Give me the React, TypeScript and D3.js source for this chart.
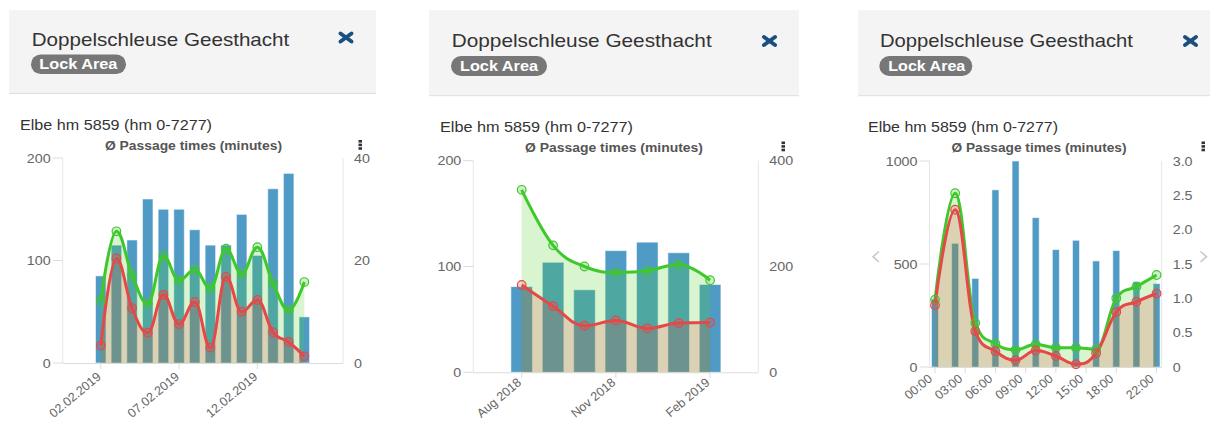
import React from "react";
import * as d3 from "d3";

// ---------- DATA ----------
// Panel 1: daily values
const p1Days = [0, 1, 2, 3, 4, 5, 6, 7, 8, 9, 10, 11, 12, 13];
const p1Counts = [85, 115, 120, 160, 150, 150, 130, 115, 115, 145, 105, 170, 185, 45];
const p1Green = [12.2, 25.7, 17.2, 11.6, 20.9, 16.1, 18.2, 14.6, 22.3, 17.4, 22.6, 15.6, 10.3, 15.8];
const p1Red = [3.4, 20.4, 10.7, 5.9, 13.3, 7.6, 11.9, 3.0, 16.8, 10.0, 12.3, 6.0, 4.1, 1.3];
const p1TickPos = [0, 5, 10];
const p1TickLabels = ["02.02.2019", "07.02.2019", "12.02.2019"];
const p1LeftTicks = [0, 100, 200];
const p1RightTicks = [0, 20, 40];

// Panel 2: monthly values (Aug 2018 .. Feb 2019)
const p2Months = [0, 1, 2, 3, 4, 5, 6];
const p2Counts = [81, 104, 78, 115, 123, 113, 83];
const p2Green = [345, 240, 200, 189, 192, 204, 174];
const p2Red = [165, 125, 88, 98, 83, 93, 94];
const p2TickPos = [0, 3, 6];
const p2TickLabels = ["Aug 2018", "Nov 2018", "Feb 2019"];
const p2LeftTicks = [0, 100, 200];
const p2RightTicks = [0, 200, 400];

// Panel 3: hourly values
const p3Hours = [0, 2, 4, 6, 8, 10, 12, 14, 16, 18, 20, 22];
const p3Counts = [330, 600, 430, 860, 1000, 725, 570, 615, 515, 565, 415, 405];
const p3Green = [0.98, 2.53, 0.64, 0.34, 0.25, 0.33, 0.28, 0.28, 0.26, 1.0, 1.17, 1.34];
const p3Red = [0.9, 2.29, 0.52, 0.23, 0.1, 0.24, 0.16, 0.04, 0.2, 0.8, 0.95, 1.07];
const p3TickPos = [0, 3, 6, 9, 12, 15, 18, 22];
const p3TickLabels = ["00:00", "03:00", "06:00", "09:00", "12:00", "15:00", "18:00", "22:00"];
const p3LeftTicks = [0, 500, 1000];
const p3RightTicks = [0, 0.5, 1, 1.5, 2, 2.5, 3];

const headerTitle = "Doppelschleuse Geesthacht";
const badgeText = "Lock Area";
const subtitleText = "Elbe hm 5859 (hm 0-7277)";
const chartTitleText = "Ø Passage times (minutes)";

// ---------- STYLE ----------
const FONT = "'Liberation Sans', Arial, Helvetica, sans-serif";
const BLUE = "#4f9bc5";
const GREEN = "#3fc82c";
const RED = "#e64848";

// Highcharts-like spline curve for d3
class HCSpline {
  _context: any;
  _line: number;
  _pts: number[][];
  constructor(context: any) {
    this._context = context;
    this._line = NaN;
    this._pts = [];
  }
  areaStart() { this._line = 0; }
  areaEnd() { this._line = NaN; }
  lineStart() { this._pts = []; }
  point(x: number, y: number) { this._pts.push([+x, +y]); }
  lineEnd() {
    const p = this._pts;
    const n = p.length;
    const ctx = this._context;
    if (n) {
      if (this._line) ctx.lineTo(p[0][0], p[0][1]);
      else ctx.moveTo(p[0][0], p[0][1]);
      const L = p.map((q) => [q[0], q[1]]);
      const R = p.map((q) => [q[0], q[1]]);
      for (let i = 1; i < n - 1; i++) {
        const [lx, ly] = p[i - 1];
        const [x, y] = p[i];
        const [nx, ny] = p[i + 1];
        const lcx = (1.5 * x + lx) / 2.5;
        let lcy = (1.5 * y + ly) / 2.5;
        const rcx = (1.5 * x + nx) / 2.5;
        let rcy = (1.5 * y + ny) / 2.5;
        if (rcx !== lcx) {
          const c = ((rcy - lcy) * (rcx - x)) / (rcx - lcx) + y - rcy;
          lcy += c;
          rcy += c;
        }
        if (lcy > ly && lcy > y) { lcy = Math.max(ly, y); rcy = 2 * y - lcy; }
        else if (lcy < ly && lcy < y) { lcy = Math.min(ly, y); rcy = 2 * y - lcy; }
        if (rcy > ny && rcy > y) { rcy = Math.max(ny, y); lcy = 2 * y - rcy; }
        else if (rcy < ny && rcy < y) { rcy = Math.min(ny, y); lcy = 2 * y - rcy; }
        L[i] = [lcx, lcy];
        R[i] = [rcx, rcy];
      }
      for (let i = 1; i < n; i++) {
        ctx.bezierCurveTo(R[i - 1][0], R[i - 1][1], L[i][0], L[i][1], p[i][0], p[i][1]);
      }
    }
    if (this._line || (this._line !== 0 && n === 1)) ctx.closePath();
    this._line = 1 - this._line;
  }
}
const curveHC = (ctx: any) => new HCSpline(ctx);

function T(props: any) {
  const { x, y, sx = 1, rot = 0, anchor = "start", size = 13, weight = "normal", fill = "#666", len, children } = props;
  const tr = `translate(${x},${y})` + (sx !== 1 ? ` scale(${sx},1)` : "") + (rot ? ` rotate(${rot})` : "");
  const extra: any = {};
  if (len) { extra.textLength = len; extra.lengthAdjust = "spacingAndGlyphs"; }
  return (
    <text transform={tr} textAnchor={anchor} fontSize={size} fontWeight={weight} fill={fill} fontFamily={FONT} {...extra}>
      {children}
    </text>
  );
}

const panels = [
  {
    id: "p1",
    header: { x: 9, y: 10, w: 367, h: 83.5 },
    title: { x: 31.7, y: 46.3, len: 257.6 },
    badge: { x: 31, y: 54.5, w: 95, h: 19.5, tx: 39.3, ty: 69.3, len: 78 },
    close: { cx: 346, cy: 37.5 },
    subtitle: { x: 20, y: 129.5, len: 192 },
    chartTitle: { cx: 193.5, y: 149.5, len: 177 },
    menu: { x: 358.5, y: 140 },
    plot: { left: 62.7, right: 343, top: 158, bottom: 363 },
    xDomain: [-2.43, 15.47],
    barWidth: 10.5,
    labelDx: 1, labelDy: 15,
    xs: p1Days, counts: p1Counts, green: p1Green, red: p1Red,
    tickPos: p1TickPos, tickLabels: p1TickLabels,
    leftTicks: p1LeftTicks, rightTicks: p1RightTicks, rightFmt: (d: number) => String(d),
    chevrons: false,
  },
  {
    id: "p2",
    header: { x: 429, y: 10, w: 370, h: 85.7 },
    title: { x: 451.7, y: 47.3, len: 260 },
    badge: { x: 451, y: 56, w: 96, h: 20, tx: 460, ty: 71.3, len: 78 },
    close: { cx: 769.5, cy: 41 },
    subtitle: { x: 440, y: 131.5, len: 193 },
    chartTitle: { cx: 614, y: 151.5, len: 178 },
    menu: { x: 781.5, y: 141.5 },
    plot: { left: 473.3, right: 758.3, top: 160.7, bottom: 372.3 },
    xDomain: [-1.541, 7.535],
    barWidth: 21.6,
    labelDx: 0.5, labelDy: 11.5,
    xs: p2Months, counts: p2Counts, green: p2Green, red: p2Red,
    tickPos: p2TickPos, tickLabels: p2TickLabels,
    leftTicks: p2LeftTicks, rightTicks: p2RightTicks, rightFmt: (d: number) => String(d),
    chevrons: false,
  },
  {
    id: "p3",
    header: { x: 858, y: 10, w: 352, h: 85.7 },
    title: { x: 880, y: 47.3, len: 253 },
    badge: { x: 879.3, y: 56, w: 93, h: 20, tx: 888.3, ty: 71.3, len: 77 },
    close: { cx: 1190.5, cy: 41 },
    subtitle: { x: 868, y: 131.5, len: 190 },
    chartTitle: { cx: 1039, y: 151.5, len: 175 },
    menu: { x: 1201.5, y: 141.5 },
    plot: { left: 929.5, right: 1161.7, top: 161, bottom: 367 },
    xDomain: [-0.546, 22.51],
    barWidth: 7,
    labelDx: -2, labelDy: 13,
    xs: p3Hours, counts: p3Counts, green: p3Green, red: p3Red,
    tickPos: p3TickPos, tickLabels: p3TickLabels,
    leftTicks: p3LeftTicks, rightTicks: p3RightTicks, rightFmt: (d: number) => (d === 0 ? "0" : d3.format(".1f")(d)),
    chevrons: true,
  },
];

function Panel({ cfg }: any) {
  const { plot } = cfg;
  const leftMax = cfg.leftTicks[cfg.leftTicks.length - 1];
  const rightMax = cfg.rightTicks[cfg.rightTicks.length - 1];
  const x = d3.scaleLinear().domain(cfg.xDomain).range([plot.left, plot.right]);
  const yL = d3.scaleLinear().domain([0, leftMax]).range([plot.bottom, plot.top]);
  const yR = d3.scaleLinear().domain([0, rightMax]).range([plot.bottom, plot.top]);
  const xs: number[] = cfg.xs;
  const line = d3.line<number>().x((_d, i) => x(xs[i])).y((d) => yR(d)).curve(curveHC as any);
  const area = d3.area<number>().x((_d, i) => x(xs[i])).y0(yR(0)).y1((d) => yR(d)).curve(curveHC as any);
  const h = cfg.header, b = cfg.badge, c = cfg.close;
  const clipId = `clip-${cfg.id}`;
  return (
    <g>
      {/* header */}
      <rect x={h.x} y={h.y} width={h.w} height={h.h} fill="#f4f4f4" />
      <line x1={h.x} x2={h.x + h.w} y1={h.y + h.h} y2={h.y + h.h} stroke="#dedede" strokeWidth={1} />
      <T x={cfg.title.x} y={cfg.title.y} size={18.5} fill="#333" len={cfg.title.len}>{headerTitle}</T>
      <rect x={b.x} y={b.y} width={b.w} height={b.h} rx={b.h / 2} fill="#777" />
      <T x={b.tx} y={b.ty} size={14} weight="bold" fill="#fff" len={b.len}>{badgeText}</T>
      <g stroke="#1b4f80" strokeWidth={4} strokeLinecap="round">
        <line x1={c.cx - 5.5} y1={c.cy - 4} x2={c.cx + 5.5} y2={c.cy + 4} />
        <line x1={c.cx - 5.5} y1={c.cy + 4} x2={c.cx + 5.5} y2={c.cy - 4} />
      </g>
      <T x={cfg.subtitle.x} y={cfg.subtitle.y} size={14} fill="#333" len={cfg.subtitle.len}>{subtitleText}</T>
      <T x={cfg.chartTitle.cx - cfg.chartTitle.len / 2} y={cfg.chartTitle.y} size={12} weight="bold" fill="#555" len={cfg.chartTitle.len}>
        {chartTitleText}
      </T>
      <g fill="#333">
        {[0, 1, 2].map((k) => (
          <rect key={k} x={cfg.menu.x} y={cfg.menu.y + k * 3.6} width={3.5} height={2.6} />
        ))}
      </g>

      <clipPath id={clipId}>
        <rect x={plot.left} y={plot.top - 5} width={plot.right - plot.left} height={plot.bottom - plot.top + 5} />
      </clipPath>

      {/* axes */}
      <line x1={plot.left} x2={plot.left} y1={plot.top} y2={plot.bottom} stroke="#e6e6e6" />
      <line x1={plot.right} x2={plot.right} y1={plot.top} y2={plot.bottom} stroke="#e6e6e6" />
      <line x1={plot.left} x2={plot.right} y1={plot.bottom + 0.5} y2={plot.bottom + 0.5} stroke="#dcdcdc" />
      {cfg.leftTicks.map((t: number) => (
        <g key={"l" + t}>
          <line x1={plot.left - 10} x2={plot.left} y1={yL(t)} y2={yL(t)} stroke="#dcdcdc" />
          <T x={plot.left - 12} y={yL(t) + 4.6} anchor="end" sx={1.1} size={13} fill="#666">{String(t)}</T>
        </g>
      ))}
      {cfg.rightTicks.map((t: number) => (
        <T key={"r" + t} x={plot.right + 11} y={yR(t) + 4.6} sx={1.1} size={13} fill="#666">{cfg.rightFmt(t)}</T>
      ))}
      {cfg.tickPos.map((t: number, i: number) => (
        <g key={"x" + t}>
          <line x1={x(t)} x2={x(t)} y1={plot.bottom} y2={plot.bottom + 6} stroke="#dcdcdc" />
          <T x={x(t) + cfg.labelDx} y={plot.bottom + cfg.labelDy} anchor="end" rot={-40} size={12.5} fill="#666">
            {cfg.tickLabels[i]}
          </T>
        </g>
      ))}

      {/* bars */}
      <g clipPath={`url(#${clipId})`}>
        {cfg.counts.map((v: number, i: number) => (
          <rect
            key={i}
            x={x(xs[i]) - cfg.barWidth / 2}
            y={yL(v)}
            width={cfg.barWidth}
            height={yL(0) - yL(v)}
            fill={BLUE}
            stroke="#ffffff"
            strokeOpacity={0.55}
            strokeWidth={1}
          />
        ))}
      </g>

      {/* areas */}
      <path d={area(cfg.green) || ""} fill="rgb(80,210,40)" fillOpacity={0.22} />
      <path d={area(cfg.red) || ""} fill="rgb(230,70,70)" fillOpacity={0.2} />

      {/* lines */}
      <path d={line(cfg.green) || ""} fill="none" stroke={GREEN} strokeWidth={3} />
      <path d={line(cfg.red) || ""} fill="none" stroke={RED} strokeWidth={3} />
      {cfg.green.map((v: number, i: number) => (
        <circle key={"gm" + i} cx={x(xs[i])} cy={yR(v)} r={4.3} fill={GREEN} fillOpacity={0.25} stroke={GREEN} strokeWidth={1.2} />
      ))}
      {cfg.red.map((v: number, i: number) => (
        <circle key={"rm" + i} cx={x(xs[i])} cy={yR(v)} r={4.3} fill={RED} fillOpacity={0.25} stroke={RED} strokeWidth={1.2} />
      ))}

      {cfg.chevrons && (
        <g fill="none" stroke="#c8c8c8" strokeWidth={1.6}>
          <polyline points="879,251.5 873,256.7 879,262" />
          <polyline points="1200.5,251.5 1206.5,256.7 1200.5,262" />
        </g>
      )}
    </g>
  );
}

export default function App() {
  return (
    <svg
      width={1210}
      height={421}
      viewBox="0 0 1210 421"
      style={{ position: "absolute", left: 0, top: 0, background: "#fff", display: "block" }}
    >
      <rect x={0} y={0} width={1210} height={421} fill="#fff" />
      {panels.map((p) => (
        <Panel key={p.id} cfg={p} />
      ))}
    </svg>
  );
}
